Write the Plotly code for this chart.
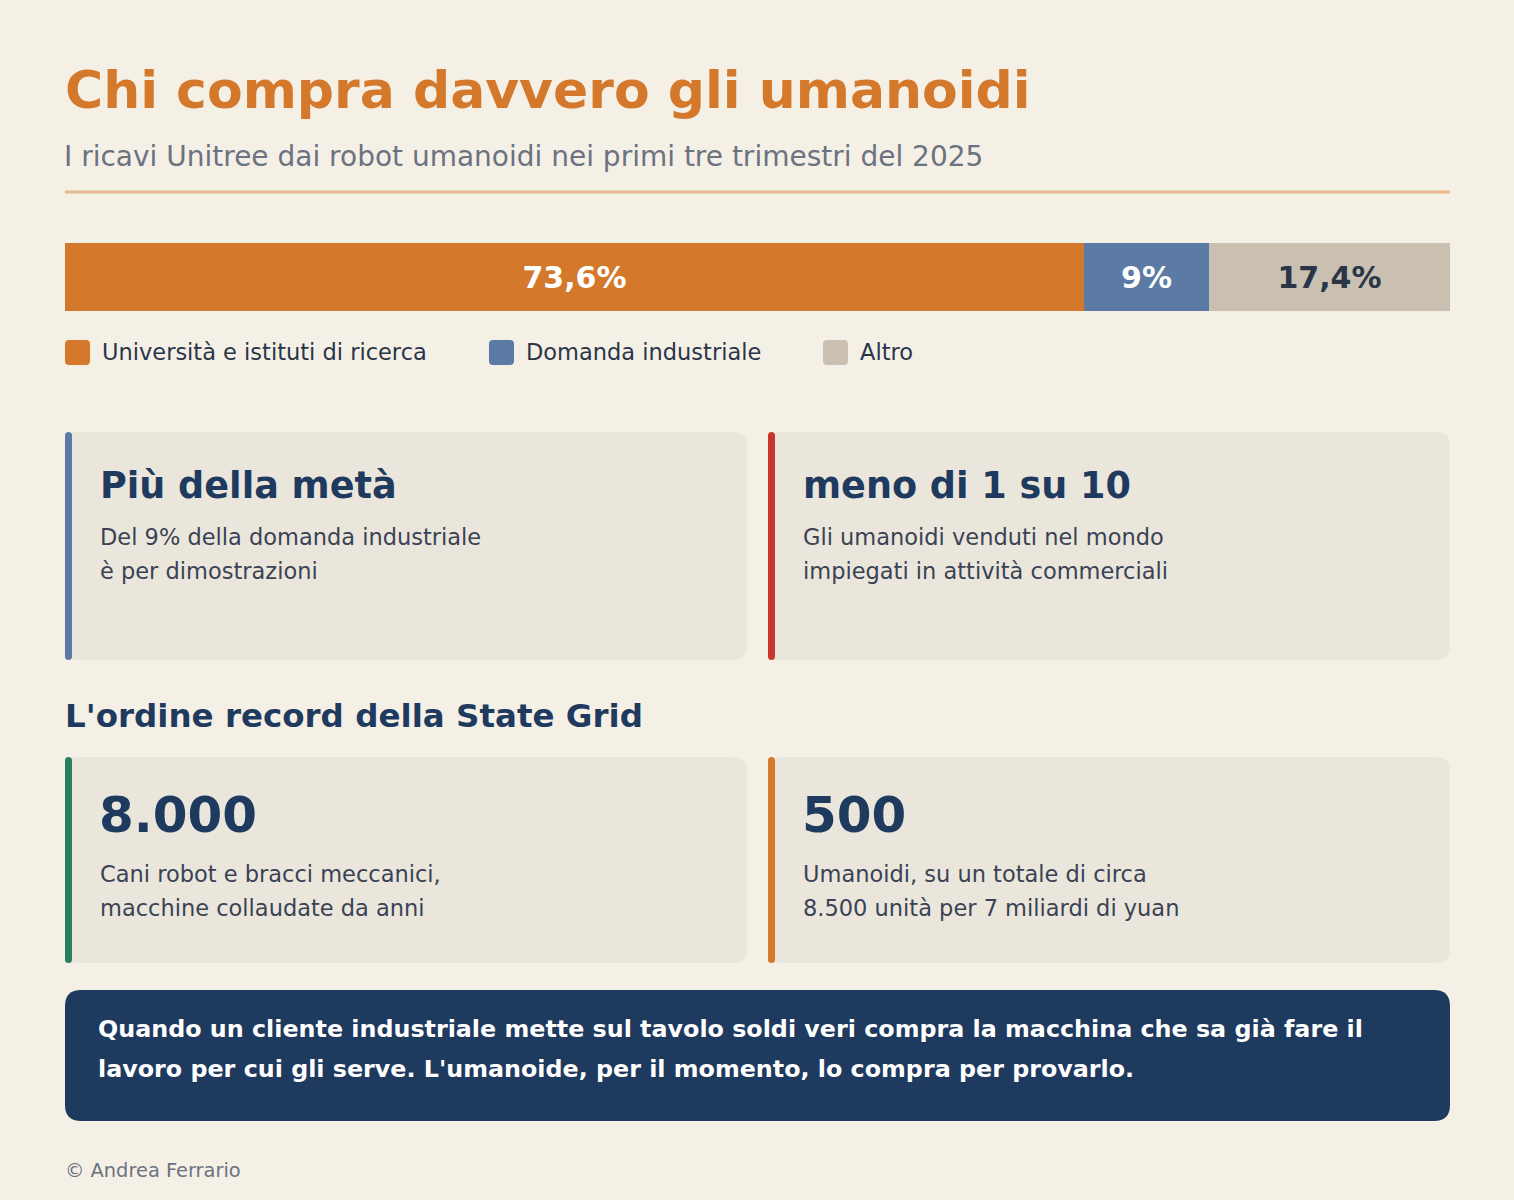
import plotly.graph_objects as go

W, H = 1514, 1200
FONT = "DejaVu Sans"

# ---- data ----
title = "Chi compra davvero gli umanoidi"
subtitle = "I ricavi Unitree dai robot umanoidi nei primi tre trimestri del 2025"
categories = ["Università e istituti di ricerca", "Domanda industriale", "Altro"]
shares = [73.6, 9.0, 17.4]
bar_colors = ["#D4782C", "#5B7BA5", "#C9C0B2"]
label_colors = ["#FFFFFF", "#FFFFFF", "#2A3548"]

cards_top_heads = ["Più della metà", "meno di 1 su 10"]
cards_top_body = [["Del 9% della domanda industriale", "è per dimostrazioni"],
                  ["Gli umanoidi venduti nel mondo", "impiegati in attività commerciali"]]
cards_top_accent = ["#5B7BA5", "#C8372D"]

section_title = "L'ordine record della State Grid"
cards_bot_heads = ["8.000", "500"]
cards_bot_body = [["Cani robot e bracci meccanici,", "macchine collaudate da anni"],
                  ["Umanoidi, su un totale di circa", "8.500 unità per 7 miliardi di yuan"]]
cards_bot_accent = ["#2A7F5F", "#D4782C"]

quote_lines = ["Quando un cliente industriale mette sul tavolo soldi veri compra la macchina che sa già fare il",
               "lavoro per cui gli serve. L'umanoide, per il momento, lo compra per provarlo."]
footer = "© Andrea Ferrario"

BG = "#F5F0E6"
CARD = "#EBE6DB"
NAVY = "#1E3A5F"
BODY = "#3A4255"


def px(x):
    return x / W


def py(y):
    return 1 - y / H


def rrect(x0, y0, x1, y1, r):
    pts = [
        f"M {px(x0 + r)},{py(y0)}",
        f"L {px(x1 - r)},{py(y0)}",
        f"Q {px(x1)},{py(y0)} {px(x1)},{py(y0 + r)}",
        f"L {px(x1)},{py(y1 - r)}",
        f"Q {px(x1)},{py(y1)} {px(x1 - r)},{py(y1)}",
        f"L {px(x0 + r)},{py(y1)}",
        f"Q {px(x0)},{py(y1)} {px(x0)},{py(y1 - r)}",
        f"L {px(x0)},{py(y0 + r)}",
        f"Q {px(x0)},{py(y0)} {px(x0 + r)},{py(y0)}",
        "Z",
    ]
    return " ".join(pts)


shapes = []
annotations = []


def add_rrect(x0, y0, x1, y1, r, color):
    shapes.append(dict(type="path", path=rrect(x0, y0, x1, y1, r), xref="paper", yref="paper",
                       fillcolor=color, line=dict(width=0), layer="below"))


def add_text(x, y, text, size, color, bold=False, xanchor="left"):
    annotations.append(dict(x=px(x), y=py(y), xref="paper", yref="paper", text=text, showarrow=False,
                            xanchor=xanchor, yanchor="middle",
                            font=dict(family=FONT, size=size, color=color, weight="bold" if bold else "normal")))


fig = go.Figure()

# stacked bar
LEFT, RIGHT = 65, 1450
for cat, val, col, lc in zip(categories, shares, bar_colors, label_colors):
    fig.add_trace(go.Bar(
        x=[val], y=["r"], orientation="h", name=cat,
        marker=dict(color=col, line=dict(width=0)),
        text=[f"{val:g}%".replace(".", ",")], textposition="inside", insidetextanchor="middle",
        textfont=dict(family=FONT, size=30, color=lc, weight="bold"),
        hoverinfo="skip", showlegend=False,
    ))

fig.update_layout(
    barmode="stack", bargap=0,
    xaxis=dict(domain=[px(LEFT), px(RIGHT)], range=[0, sum(shares)], visible=False, fixedrange=True),
    yaxis=dict(domain=[py(311), py(243)], visible=False, fixedrange=True),
)

# header
add_text(63, 90, title, 52, "#D4782C", bold=True)
add_text(62, 156, subtitle, 28, "#6B7280")
shapes.append(dict(type="line", xref="paper", yref="paper", x0=px(65), x1=px(1450), y0=py(192), y1=py(192),
                   line=dict(color="#E8B98E", width=3)))

# legend
leg_x = [65, 489, 823]
for lx, cat, col in zip(leg_x, categories, bar_colors):
    add_rrect(lx, 340, lx + 25, 365, 4, col)
    add_text(lx + 35, 352, cat, 22.5, "#2A3548")

# top cards
card_x = [(65, 747), (768, 1450)]
for (x0, x1), head, body, acc in zip(card_x, cards_top_heads, cards_top_body, cards_top_accent):
    add_rrect(x0, 432, x1, 660, 14, CARD)
    add_rrect(x0, 432, x0 + 7, 660, 3.5, acc)
    add_text(x0 + 33, 485, head, 36.6, NAVY, bold=True)
    for i, line in enumerate(body):
        add_text(x0 + 33, 537 + 34 * i, line, 22.5, BODY)

# section title
add_text(63, 716, section_title, 32.5, NAVY, bold=True)

# bottom cards
for (x0, x1), head, body, acc in zip(card_x, cards_bot_heads, cards_bot_body, cards_bot_accent):
    add_rrect(x0, 757, x1, 963, 14, CARD)
    add_rrect(x0, 757, x0 + 7, 963, 3.5, acc)
    add_text(x0 + 32, 815, head, 50, NAVY, bold=True)
    for i, line in enumerate(body):
        add_text(x0 + 33, 874 + 34 * i, line, 22.5, BODY)

# quote box
add_rrect(65, 990, 1450, 1121, 16, "#1F3A5F")
for i, line in enumerate(quote_lines):
    add_text(96, 1029 + 40 * i, line, 23.8, "#FFFFFF", bold=True)

# footer
add_text(63, 1170, footer, 19.4, "#6B7280")

fig.update_layout(
    width=W, height=H, margin=dict(l=0, r=0, t=0, b=0),
    paper_bgcolor=BG, plot_bgcolor="rgba(0,0,0,0)",
    shapes=shapes, annotations=annotations,
)

fig.write_html("out.html", config={"displayModeBar": False},
               post_script="document.body.style.margin='0';document.body.style.background='#F5F0E6';")
